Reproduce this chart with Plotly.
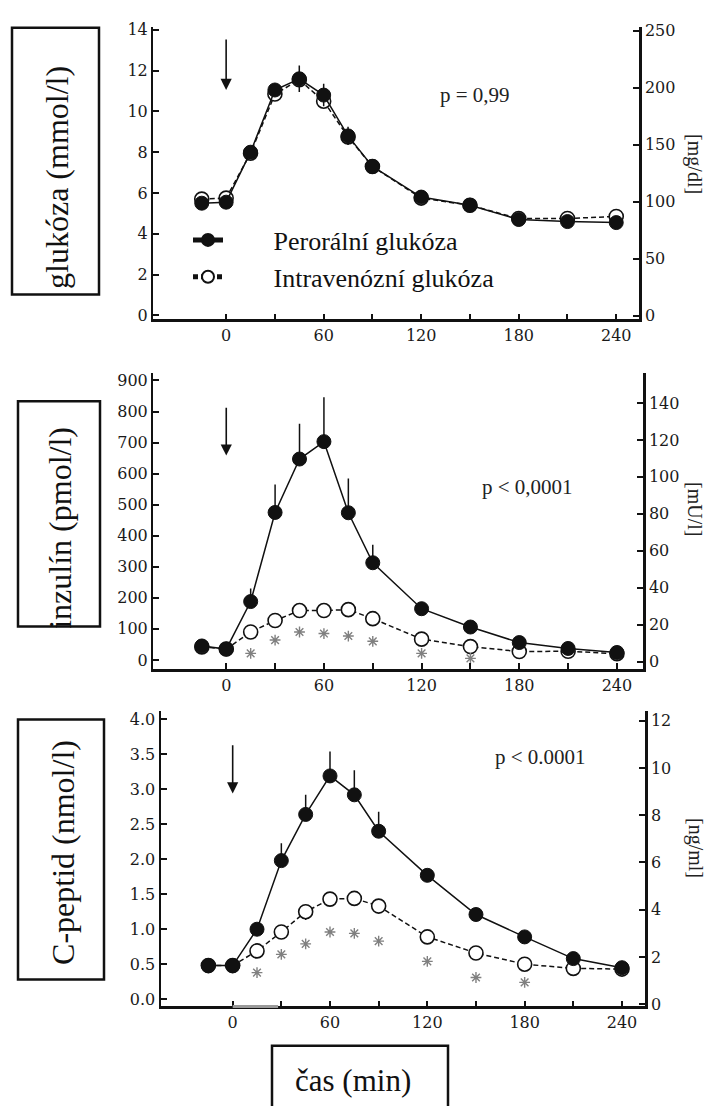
import plotly.graph_objects as go

# ---------------- data ----------------
time_min = [-15, 0, 15, 30, 45, 60, 75, 90, 120, 150, 180, 210, 240]
x_tickvals = [0, 30, 60, 90, 120, 150, 180, 210, 240]
x_ticktext = ["0", "", "60", "", "120", "", "180", "", "240"]

# glucose (mmol/l)
glucose_oral = [5.5, 5.55, 8.0, 11.05, 11.6, 10.8, 8.8, 7.3, 5.8, 5.4, 4.7, 4.6, 4.55]
glucose_oral_err = [0.1, 0.1, 0.2, 0.3, 0.65, 0.55, 0.45, 0.3, 0.2, 0.1, 0.1, 0.1, 0.1]
glucose_iv = [5.7, 5.75, 7.95, 10.85, 11.55, 10.5, 8.75, 7.3, 5.75, 5.4, 4.75, 4.75, 4.85]
glucose_ticks = [0, 2, 4, 6, 8, 10, 12, 14]
glucose_ticks_right = [0, 50, 100, 150, 200, 250]

# insulin (pmol/l)
insulin_oral = [45, 35, 188, 475, 647, 703, 474, 313, 165, 106, 56, 37, 24]
insulin_oral_err = [0, 0, 42, 90, 114, 143, 110, 58, 15, 8, 5, 3, 2]
insulin_iv = [42, 35, 90, 127, 159, 159, 162, 133, 67, 43, 27, 28, 20]
insulin_iv_err = [0, 0, 10, 12, 12, 14, 18, 12, 6, 4, 3, 2, 2]
insulin_stars = [None, None, 21, 64, 90, 85, 77, 60, 21, 5, None, None, None]
insulin_ticks = [0, 100, 200, 300, 400, 500, 600, 700, 800, 900]
insulin_ticks_right = [0, 20, 40, 60, 80, 100, 120, 140]

# C-peptide (nmol/l)
cpep_oral = [0.48, 0.48, 1.0, 1.98, 2.64, 3.19, 2.92, 2.4, 1.77, 1.21, 0.89, 0.58, 0.45]
cpep_oral_err = [0, 0, 0.05, 0.25, 0.28, 0.35, 0.35, 0.28, 0.08, 0.06, 0.04, 0.03, 0.02]
cpep_iv = [0.48, 0.48, 0.69, 0.96, 1.25, 1.43, 1.44, 1.33, 0.89, 0.66, 0.5, 0.44, 0.43]
cpep_iv_err = [0, 0, 0.04, 0.08, 0.12, 0.1, 0.1, 0.1, 0.05, 0.04, 0.03, 0.02, 0.02]
cpep_stars = [None, None, 0.38, 0.64, 0.79, 0.96, 0.94, 0.83, 0.54, 0.31, 0.24, None, None]
cpep_ticks = [0, 0.5, 1.0, 1.5, 2.0, 2.5, 3.0, 3.5, 4.0]
cpep_ticktext = ["0.0", "0.5", "1.0", "1.5", "2.0", "2.5", "3.0", "3.5", "4.0"]
cpep_ticks_right = [0, 2, 4, 6, 8, 10, 12]

# arrows (start of glucose load), tail/tip values per panel
arrow_glucose = [13.6, 11.05]
arrow_insulin = [817, 658]
arrow_cpep = [3.65, 2.94]
infusion_window = [0, 28]

p_texts = ["p = 0,99", "p < 0,0001", "p < 0.0001"]
left_titles = ["glukóza (mmol/l)", "inzulín (pmol/l)", "C-peptid (nmol/l)"]
right_titles = ["[mg/dl]", "[mU/l]", "[ng/ml]"]
legend_names = ["Perorální glukóza", "Intravenózní glukóza"]
x_title = "čas (min)"

# ---------------- layout helpers ----------------
W, H = 707, 1106
def fx(p):
    return p / W
def fy(p):
    return 1 - p / H

SERIF = "Liberation Serif"
TICKFONT = dict(family="DejaVu Serif", size=16, color="#1a1a1a")
BLACK = "#111111"
STAR = "#808080"

fig = go.Figure()

def add_panel(k, oral, oral_err, iv, iv_err, stars, symmetric_err, show_legend):
    xa = "x" if k == 1 else f"x{k}"
    ya = "y" if k == 1 else f"y{k}"
    err_iv = None
    if iv_err is not None:
        err_iv = dict(type="data", array=[0] * len(iv_err), arrayminus=iv_err,
                      symmetric=False, width=0, thickness=1.5, color=BLACK)
    fig.add_trace(go.Scatter(
        x=time_min, y=iv, xaxis=xa, yaxis=ya, mode="lines+markers",
        name="\u00a0" * 7 + legend_names[1], showlegend=show_legend, legendrank=2,
        line=dict(color=BLACK, width=1.5, dash="5px,3px"),
        marker=dict(symbol="circle", size=14, color="white",
                    line=dict(color=BLACK, width=1.6)),
        error_y=err_iv, cliponaxis=False))
    if symmetric_err:
        err_or = dict(type="data", array=oral_err, symmetric=True, width=0,
                      thickness=1.5, color=BLACK)
    else:
        err_or = dict(type="data", array=oral_err, arrayminus=[0] * len(oral_err),
                      symmetric=False, width=0, thickness=1.5, color=BLACK)
    fig.add_trace(go.Scatter(
        x=time_min, y=oral, xaxis=xa, yaxis=ya, mode="lines+markers",
        name="\u00a0" * 7 + legend_names[0], showlegend=show_legend, legendrank=1,
        line=dict(color=BLACK, width=1.5),
        marker=dict(symbol="circle", size=14, color=BLACK,
                    line=dict(color=BLACK, width=1)),
        error_y=err_or, cliponaxis=False))
    if stars is not None:
        fig.add_trace(go.Scatter(
            x=time_min, y=stars, xaxis=xa, yaxis=ya, mode="markers",
            showlegend=False,
            marker=dict(symbol="asterisk-open", size=9, color=STAR,
                        line=dict(color=STAR, width=1.4))))
    # empty trace so that the right-hand (secondary unit) axis is drawn
    fig.add_trace(go.Scatter(x=[None], y=[None], xaxis=xa, yaxis=f"y{k + 3}",
                             showlegend=False, hoverinfo="skip", mode="markers"))

add_panel(1, glucose_oral, glucose_oral_err, glucose_iv, None, None, True, True)
add_panel(2, insulin_oral, insulin_oral_err, insulin_iv, insulin_iv_err, insulin_stars, False, False)
add_panel(3, cpep_oral, cpep_oral_err, cpep_iv, cpep_iv_err, cpep_stars, False, False)

# panel geometry (pixels)
panels = [
    dict(x0=153, x1=639, y0=21, y1=317, xr=[-45, 254], yr=[-0.19, 14.15], yr2=[-3.2, 253.5],
         yt=glucose_ticks, ytt=None, yt2=glucose_ticks_right),
    dict(x0=153, x1=643, y0=371.7, y1=670.7, xr=[-45, 256], yr=[-28.6, 923], yr2=[-3.96, 156.05],
         yt=insulin_ticks, ytt=None, yt2=insulin_ticks_right),
    dict(x0=160.5, x1=645, y0=713.3, y1=1012.3, xr=[-44.5, 254.2], yr=[-0.103, 4.119], yr2=[-0.096, 12.42],
         yt=cpep_ticks, ytt=cpep_ticktext, yt2=cpep_ticks_right),
]

axis_common = dict(showgrid=False, zeroline=False, showline=True, linecolor=BLACK,
                   ticks="inside", ticklen=6, tickwidth=1.5, tickcolor=BLACK,
                   tickfont=TICKFONT)

layout = {}
for i, p in enumerate(panels, start=1):
    xk = "xaxis" if i == 1 else f"xaxis{i}"
    yk = "yaxis" if i == 1 else f"yaxis{i}"
    yk2 = f"yaxis{i + 3}"
    yname = "y" if i == 1 else f"y{i}"
    xname = "x" if i == 1 else f"x{i}"
    layout[xk] = dict(axis_common, domain=[fx(p["x0"]), fx(p["x1"])], range=p["xr"],
                      tickvals=x_tickvals, ticktext=x_ticktext, anchor=yname, linewidth=2.5)
    ydict = dict(axis_common, domain=[fy(p["y1"]), fy(p["y0"])], range=p["yr"],
                 tickvals=p["yt"], anchor=xname, linewidth=2)
    if p["ytt"] is not None:
        ydict["ticktext"] = p["ytt"]
    layout[yk] = ydict
    layout[yk2] = dict(axis_common, range=p["yr2"], tickvals=p["yt2"], overlaying=yname,
                       side="right", anchor=xname, linewidth=2.5)

fig.update_layout(**layout)

annotations = []
for i, arr in enumerate([arrow_glucose, arrow_insulin, arrow_cpep], start=1):
    xname = "x" if i == 1 else f"x{i}"
    yname = "y" if i == 1 else f"y{i}"
    annotations.append(dict(x=0, y=arr[1], ax=0, ay=arr[0], xref=xname, yref=yname,
                            axref=xname, ayref=yname, showarrow=True, text="",
                            arrowhead=2, arrowsize=1.4, arrowwidth=1.6, arrowcolor=BLACK))

def txt(text, px, py, size, angle=0, color="#222"):
    return dict(x=fx(px), y=fy(py), xref="paper", yref="paper", text=text,
                xanchor="center", yanchor="middle", textangle=angle, showarrow=False,
                font=dict(family=SERIF, size=size, color=color))

p_pos = [(475, 90), (527, 487), (540, 760)]
for t, (px, py) in zip(p_texts, p_pos):
    annotations.append(txt(t, px, py, 21))
lt_pos = [(57, 173), (60, 528), (63, 857)]
for t, (px, py) in zip(left_titles, lt_pos):
    annotations.append(txt(t, px, py, 32, -90, "#111"))
rt_pos = [(695, 160), (695, 509), (695, 852)]
for t, (px, py) in zip(right_titles, rt_pos):
    annotations.append(txt(t, px, py, 20, 90))
annotations.append(txt(x_title, 353, 1087, 31, 0, "#111"))

shapes = []
boxes = [(12, 22, 99, 292), (18, 400, 100, 628), (18, 722, 104, 985), (272, 1052, 448, 1120)]
for (x0, y0, x1, y1) in boxes:
    shapes.append(dict(type="rect", xref="paper", yref="paper", x0=fx(x0), x1=fx(x1),
                       y0=fy(y1), y1=fy(y0), line=dict(color=BLACK, width=2.5)))
shapes.append(dict(type="line", xref="x3", yref="y3 domain", x0=infusion_window[0],
                   x1=infusion_window[1], y0=0, y1=0, line=dict(color="#9a9a9a", width=3)))

fig.update_layout(
    width=W, height=H, margin=dict(l=0, r=0, t=0, b=0),
    paper_bgcolor="white", plot_bgcolor="white",
    annotations=annotations, shapes=shapes,
    legend=dict(x=fx(188), y=fy(213), xanchor="left", yanchor="top",
                bgcolor="rgba(0,0,0,0)", font=dict(family=SERIF, size=26, color="#111"),
                tracegroupgap=0, itemsizing="constant"),
    showlegend=True,
)

fig.write_html("out.html")
